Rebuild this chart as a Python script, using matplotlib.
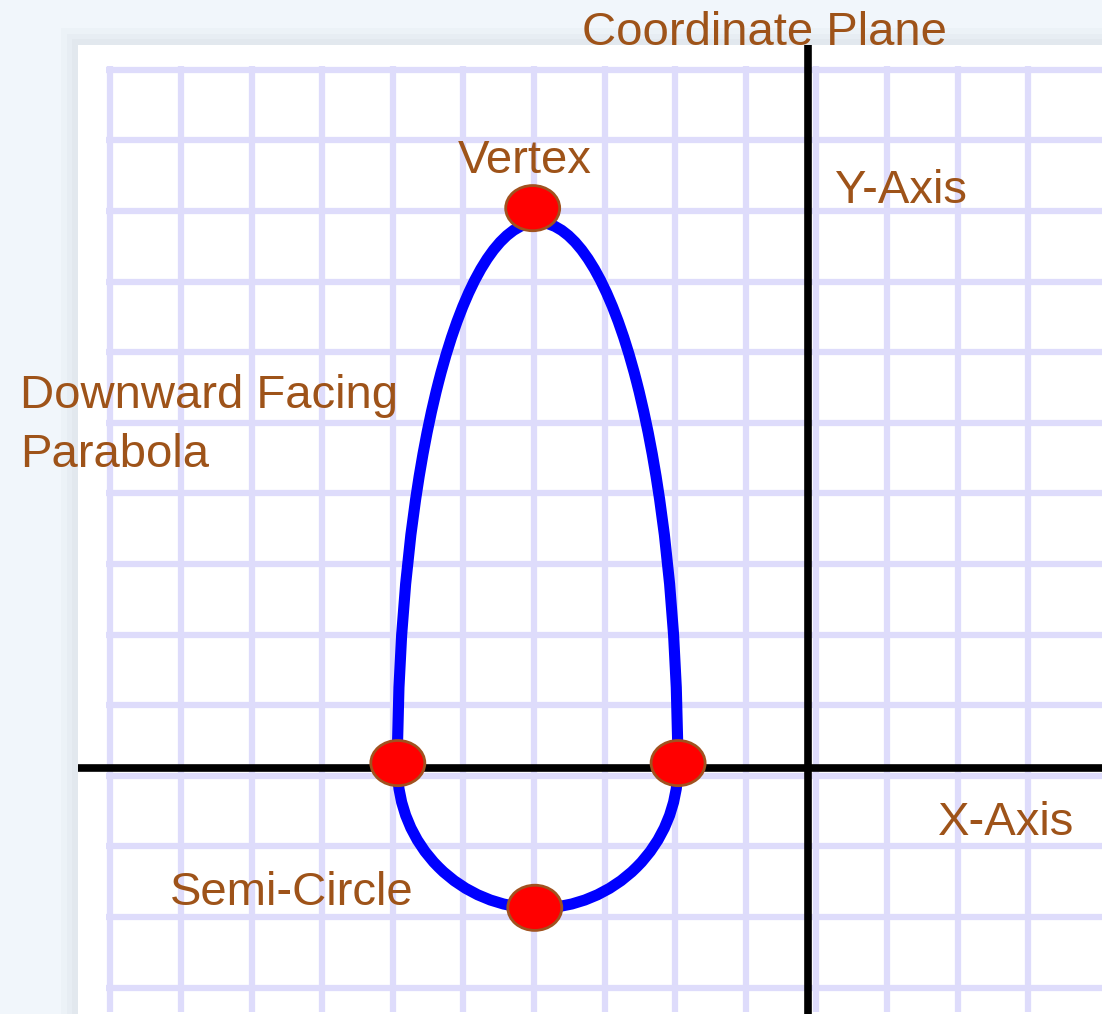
import numpy as np
import matplotlib.pyplot as plt
from matplotlib.patches import Arc, Ellipse, Rectangle

# all values in grid cells, origin where the two axes cross
semi_center = (-3.83, 0.0)
semi_radius = 1.985
parabola_height = 7.73          # top of the blue curve above the x-axis
point_x = [-3.90, -5.81, -1.84, -3.87]
point_y = [7.93, 0.07, 0.07, -1.98]

grid_x = np.arange(-10, 4) + 0.12
grid_y = np.arange(-3, 11) - 0.11

labels = ['Coordinate Plane', 'Vertex', 'Y-Axis', 'Downward Facing', 'Parabola',
          'Semi-Circle', 'X-Axis']
label_x = [-0.62, -4.01, 0.38, -11.16, -11.16, -9.04, 1.84]
label_y = [10.24, 8.43, 8.00, 5.10, 4.26, -1.94, -0.95]
label_ha = ['center', 'center', 'left', 'left', 'left', 'left', 'left']

plt.rcParams['font.family'] = ['Liberation Sans', 'DejaVu Sans']

fig = plt.figure(figsize=(11.02, 10.14), dpi=100)
fig.patch.set_facecolor('#f1f6fb')
ax = fig.add_axes([0, 0, 1, 1])
ax.set_xlim(-11.445, 4.164)
ax.set_ylim(-3.484, 10.878)
ax.axis('off')

# panel with a soft shadow
panel_left, panel_top = -10.34, 10.24
for off, a in [(0.24, 0.2), (0.16, 0.3), (0.08, 0.45)]:
    ax.add_patch(Rectangle((panel_left - off, -4), 20, panel_top + off + 4,
                           facecolor='#dce3ea', edgecolor='none', alpha=a, zorder=0))
ax.add_patch(Rectangle((panel_left, -4), 20, panel_top + 4, facecolor='white',
                       edgecolor='none', zorder=1))

# graph paper
grid_col = '#dedcfb'
for gx in grid_x:
    ax.plot([gx, gx], [-3.45, 9.95], color=grid_col, lw=4.5, zorder=2,
            solid_capstyle='butt')
for gy in grid_y:
    ax.plot([-9.95, 4.2], [gy, gy], color=grid_col, lw=4.5, zorder=2,
            solid_capstyle='butt')

# axes
ax.plot([0, 0], [-3.5, panel_top], color='black', lw=5.5, zorder=3, solid_capstyle='butt')
ax.plot([panel_left, 4.2], [0, 0], color='black', lw=5.5, zorder=3, solid_capstyle='butt')

# curve: semicircle below, tall arch above
ax.add_patch(Arc(semi_center, 2 * semi_radius, 2 * semi_radius, theta1=180, theta2=360,
                 color='#0000ff', lw=8, zorder=4))
ax.add_patch(Arc(semi_center, 2 * semi_radius, 2 * parabola_height, theta1=0, theta2=180,
                 color='#0000ff', lw=8, zorder=4))

for px, py in zip(point_x, point_y):
    ax.add_patch(Ellipse((px, py), 0.765, 0.64, facecolor='#ff0000',
                         edgecolor='#a0521f', lw=2, zorder=5))

for t, x, y, ha in zip(labels, label_x, label_y, label_ha):
    ax.text(x, y, t, ha=ha, va='baseline', fontsize=34, color='#9e5319', zorder=6)

fig.savefig('out.png', dpi=100, facecolor=fig.get_facecolor())
